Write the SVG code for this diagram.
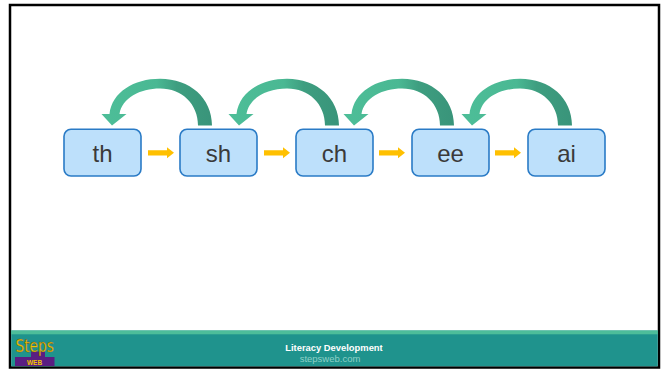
<svg xmlns="http://www.w3.org/2000/svg" width="666" height="369" viewBox="0 0 666 369">
<style>
.box{fill:#BDE0FB;stroke:#2A7BC6;stroke-width:1.6}
.lbl{font-family:"Liberation Sans",Arial,sans-serif;font-size:24px;fill:#3A3A3A;text-anchor:middle}
.ora{fill:#FFC000}
.curve{fill:url(#gg)}
</style>
<defs>
<linearGradient id="gg" x1="0" y1="0" x2="1" y2="0">
<stop offset="0" stop-color="#4DBE98"/>
<stop offset="0.5" stop-color="#4AB893"/>
<stop offset="0.68" stop-color="#3E9E80"/>
<stop offset="1" stop-color="#39947A"/>
</linearGradient>
<path id="curved" class="curve" d="M-4.5,114 C-2,92 20,78.7 46,78.7 C76,78.7 98,98 98,125.5 L84,125.5 C84,104 68,88.5 46,88.5 C26,88.5 8,98 5.5,114 L12.5,114 L-2,125.5 L-12.5,114 Z"/>
<path id="ora" class="ora" d="M0,150.2 L19,150.2 L19,147.3 L26,152.8 L19,158.3 L19,155.4 L0,155.4 Z"/>
</defs>
<rect x="0" y="0" width="666" height="369" fill="#FFFFFF"/>
<rect x="10" y="5" width="649" height="362.5" fill="#FFFFFF" stroke="#000000" stroke-width="2.5"/>
<g id="footer">
<rect x="11.2" y="330.5" width="646.6" height="35.8" fill="#1F938D"/>
<rect x="11.2" y="330.5" width="646.6" height="3.8" fill="#4DBD9A"/>
<text x="334" y="350.6" font-family="Liberation Sans,Arial,sans-serif" font-size="9.4" font-weight="bold" fill="#FFFFFF" text-anchor="middle">Literacy Development</text>
<text x="330" y="361.6" font-family="Liberation Sans,Arial,sans-serif" font-size="9.5" fill="#8FD1C7" text-anchor="middle">stepsweb.com</text>
</g>
<g id="logo">
<path d="M15,366 L15,357 L31,357 L31,351.5 L45,351.5 L45,357 L54.5,357 L54.5,366 Z" fill="#5A1E82"/>
<text x="34.5" y="365.3" font-family="Liberation Sans,Arial,sans-serif" font-size="6.5" font-weight="bold" fill="#F2C500" text-anchor="middle">WEB</text>
<text x="15.5" y="352" font-family="DejaVu Sans Condensed,DejaVu Sans,sans-serif" font-size="17" fill="#F2C500" stroke="#6A4A10" stroke-width="0.3" textLength="38.5" lengthAdjust="spacingAndGlyphs">Steps</text>
</g>
<g id="connectors">
<use href="#ora" x="148"/>
<use href="#ora" x="264"/>
<use href="#ora" x="379"/>
<use href="#ora" x="495"/>
<use href="#curved" x="114"/>
<use href="#curved" x="241"/>
<use href="#curved" x="356"/>
<use href="#curved" x="474"/>
</g>
<g id="node-th"><rect class="box" x="64" y="129.3" width="77" height="46.7" rx="7"/><text class="lbl" x="102.5" y="161.5">th</text></g>
<g id="node-sh"><rect class="box" x="180" y="129.3" width="77" height="46.7" rx="7"/><text class="lbl" x="218.5" y="161.5">sh</text></g>
<g id="node-ch"><rect class="box" x="296" y="129.3" width="77" height="46.7" rx="7"/><text class="lbl" x="334.5" y="161.5">ch</text></g>
<g id="node-ee"><rect class="box" x="412" y="129.3" width="77" height="46.7" rx="7"/><text class="lbl" x="450.5" y="161.5">ee</text></g>
<g id="node-ai"><rect class="box" x="528" y="129.3" width="77" height="46.7" rx="7"/><text class="lbl" x="566.5" y="161.5">ai</text></g>
</svg>
